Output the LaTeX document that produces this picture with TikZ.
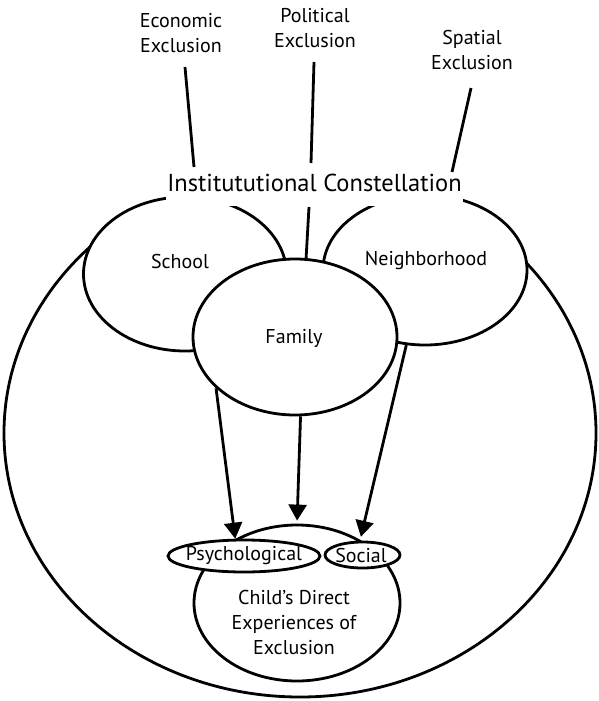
\documentclass[tikz,border=0pt]{standalone}
\usepackage{fontspec}
\setmainfont{PT Sans}
\usetikzlibrary{shapes.geometric,arrows.meta}
\begin{document}
\begin{tikzpicture}[x=1pt,y=-1pt,
  ln/.style={line width=2.8pt},
  ell/.style={ellipse, draw, line width=2.8pt, fill=white, inner sep=0pt},
  lbl/.style={font=\fontsize{20}{25}\selectfont, align=center, inner sep=0pt},
  arr/.style={line width=2.8pt, -{Triangle[length=16pt,width=18pt]}}
]
\useasboundingbox (0,0) rectangle (599,701);

% outer ellipse (top part hidden behind the institutions)
\begin{scope}
  \clip (0,230) rectangle (599,701);
  \draw[ln] (300,433) ellipse [x radius=296, y radius=264];
\end{scope}

% institutions
\node[ell, minimum width=203pt, minimum height=154pt] (school) at (185,274) {};
\node[ell, minimum width=204pt, minimum height=150pt] (nbh) at (425,270) {};
\node[ell, minimum width=204pt, minimum height=156pt] (fam) at (295,337) {};
\node[lbl] (schoolt) at (180,261) {School};
\node[lbl] (nbht) at (426,261) {Neighborhood};
\node[lbl] (famt) at (294,338) {Family};

% title of the constellation
\node[font=\fontsize{24.5}{30}\selectfont, anchor=base, fill=white,
      text height=18pt, text depth=12pt, inner xsep=1pt, inner ysep=3pt]
      (ic) at (314.5,191) {Institututional Constellation};

% forms of exclusion
\node[lbl] (econ) at (181,33) {Economic\\Exclusion};
\node[lbl] (pol) at (315,28) {Political\\Exclusion};
\node[lbl] (spat) at (472,50) {Spatial\\Exclusion};

\coordinate (e1) at (185,67);  \coordinate (e2) at (194,167);
\coordinate (p1) at (314,62);  \coordinate (p2) at (311,163);
\coordinate (p3) at (309,207);
\coordinate (s1) at (471,88);  \coordinate (s2) at (452,172);
\draw[ln] (e1) -- (e2);
\draw[ln] (p1) -- (p2);
\draw[ln] (p3) -- (fam.82);
\draw[ln] (s1) -- (s2);

% child
\node[ell, minimum width=206pt, minimum height=156pt] (child) at (297,603) {};
\node[lbl] (childt) at (294,622) {Child’s Direct\\Experiences of\\Exclusion};
\node[ell, minimum width=152pt, minimum height=32pt] (psy) at (244,556) {};
\node[lbl] (psyt) at (244,556) {Psychological};
\node[ell, minimum width=75pt, minimum height=26pt] (soc) at (362.5,555) {};
\node[lbl] (soct) at (361,555) {Social};

% arrows
\draw[arr] (fam.213) -- (psy.117);
\draw[arr, shorten >=3pt] (fam.274) -- (child.north);
\draw[arr, shorten >=4pt] (nbh.256) -- (soc.100);
\end{tikzpicture}
\end{document}
